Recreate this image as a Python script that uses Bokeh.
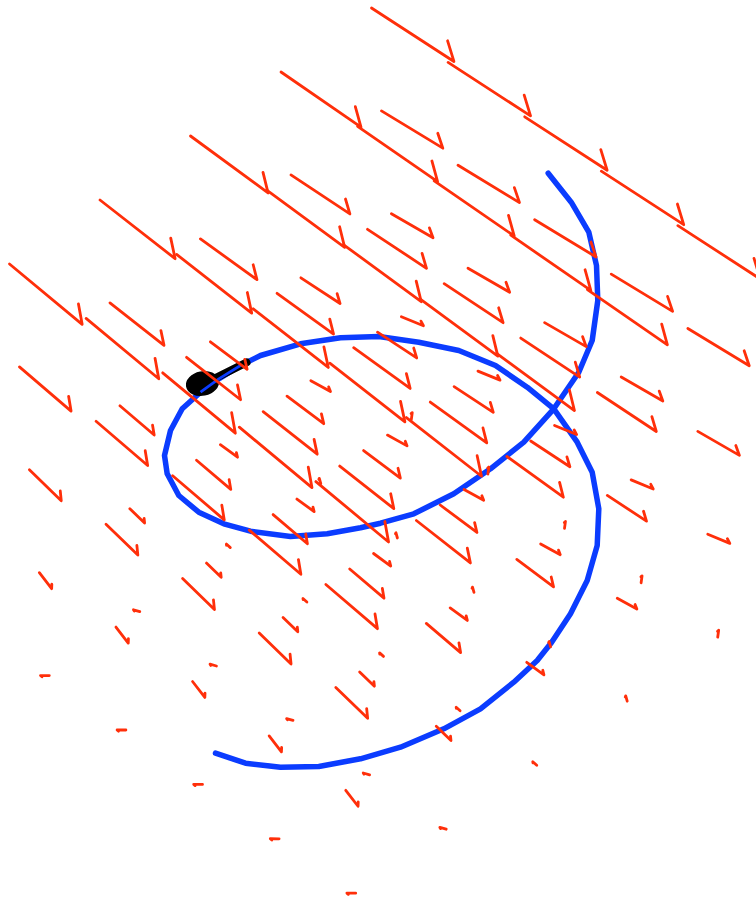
import math
from bokeh.plotting import figure
from bokeh.models import Range1d
from bokeh.embed import file_html
from bokeh.resources import INLINE

# ---- data ----
# 5 x 5 x 5 grid of arrows: column index along x, row index along y, level index top -> bottom
grid_x = [0, 1, 2, 3, 4]
grid_y = [0, 1, 2, 3, 4]
levels = [0, 1, 2, 3, 4]
# wind components in grid units
wind_u = [1.083, 0.81, 0.551, 0.297, 0.023]        # per level (strong aloft, weak below)
wind_w = [-0.053, -0.066, -0.058, -0.069, -0.080]  # per level (slight upward drift)
wind_v = [0.0, 0.027, 0.054, 0.081, 0.108]         # per row

# trajectory (spiral), in view coordinates
helix_x = [547.7, 570.7, 588.3, 596.0, 597.3, 591.7, 578.3, 553.3, 523.3, 490.0,
           453.3, 413.3, 380.0, 360.0, 326.7, 290.0, 250.0, 223.3, 198.3, 178.3,
           166.7, 164.0, 170.0, 181.7, 200.0, 218.3, 240.0, 260.0, 300.0, 340.0,
           378.3, 418.3, 458.3, 495.0, 526.7, 553.3, 576.7, 591.7, 598.3, 596.7,
           586.7, 570.0, 551.0, 536.7, 513.3, 480.0, 443.3, 400.0, 360.0, 318.3,
           280.0, 245.0, 215.0]
helix_y = [172.7, 201.7, 231.7, 265.0, 300.0, 340.0, 371.7, 408.3, 441.7, 468.3,
           493.3, 513.3, 522.7, 527.3, 533.3, 536.0, 530.7, 523.3, 511.7, 495.0,
           473.3, 455.0, 430.0, 408.3, 391.7, 378.3, 365.0, 355.0, 343.3, 337.3,
           336.0, 341.7, 350.0, 365.0, 386.7, 408.3, 441.7, 471.7, 508.3, 545.0,
           580.0, 613.3, 642.0, 660.0, 681.7, 708.3, 728.3, 746.7, 758.3, 766.0,
           766.7, 762.7, 752.7]

# particle marker and its short black trail
particle_x = [202]
particle_y = [383]
trail_x = [208, 246]
trail_y = [381, 362]
thin_idx = [24, 25, 26]   # helix vertices drawn thin over the black trail

# ---- view (projection of the 3-D grid onto the page) ----
ORIGIN = (371.0, 7.5)
AX = (76.6, 54.4)
AY = (-90.5, 64.0)
AZ = (9.95, 102.9)
HEAD_RATIO = 0.22
HEAD_ANGLE = math.radians(40)

def proj(i, j, k):
    return (ORIGIN[0] + i * AX[0] + j * AY[0] + k * AZ[0],
            ORIGIN[1] + i * AX[1] + j * AY[1] + k * AZ[1])

xs, ys = [], []
for k in levels:
    for j in grid_y:
        for i in grid_x:
            tx, ty = proj(i, j, k)
            u, v, w = wind_u[k], wind_v[j], wind_w[k]
            dx = u * AX[0] + v * AY[0] + w * AZ[0]
            dy = u * AX[1] + v * AY[1] + w * AZ[1]
            L = math.hypot(dx, dy)
            if L == 0:
                continue
            hx, hy = tx + dx, ty + dy
            bx, by = -dx / L, -dy / L
            c, s = math.cos(HEAD_ANGLE), math.sin(HEAD_ANGLE)
            rx, ry = bx * c - by * s, bx * s + by * c
            ex, ey = hx + HEAD_RATIO * L * rx, hy + HEAD_RATIO * L * ry
            xs.append([tx, hx, ex])
            ys.append([ty, hy, ey])

W, H = 756, 903
p = figure(width=W, height=H, output_backend="svg", toolbar_location=None,
           x_range=Range1d(0, W), y_range=Range1d(H, 0),
           x_axis_type=None, y_axis_type=None, min_border=0)
p.grid.visible = False
p.outline_line_color = None
p.background_fill_color = "white"
p.border_fill_color = "white"

BLUE = "#0b3cff"
RED = "#ff2f0a"

p.line(helix_x, helix_y, line_color=BLUE, line_width=5.5, line_join="round", line_cap="round")
p.line(trail_x, trail_y, line_color="black", line_width=8, line_cap="round")
p.ellipse(particle_x, particle_y, width=32, height=23, angle=0.2,
          fill_color="black", line_color="black", line_width=1.5)
p.line([helix_x[i] for i in thin_idx], [helix_y[i] for i in thin_idx],
       line_color=BLUE, line_width=2.7)
p.multi_line(xs, ys, line_color=RED, line_width=2.8, line_join="round", line_cap="round")

open("out.html", "w").write(file_html(p, INLINE))
